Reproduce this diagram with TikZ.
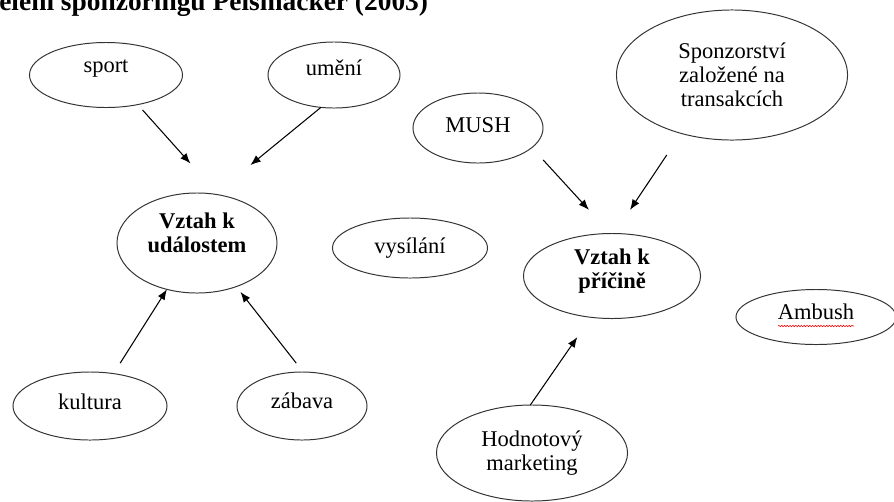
\documentclass[tikz,border=0pt]{standalone}
\usepackage{fontspec}
\setmainfont{Liberation Serif}
\usepackage{tikz}
\usetikzlibrary{arrows.meta, shapes.geometric, decorations.pathmorphing}

\tikzset{
  bubble/.style={draw=black!80, line width=0.7pt, ellipse, inner sep=0pt, outer sep=0pt},
  bold/.style={font=\fontsize{16}{17}\selectfont\bfseries},
  arr/.style={->, line width=0.75pt}
}

\begin{document}
\begin{tikzpicture}[x=0.025cm, y=-0.025cm, font=\fontsize{16}{17}\selectfont, >={Latex[length=2.6mm, width=2mm]}]

\clip (0,0) rectangle (894,501);

% heading, cut at the top edge
\node[font=\fontsize{19.5}{22}\selectfont\bfseries, anchor=base west, inner sep=0pt] (title) at (-1,10.5) {ělení sponzoringu Pelsmacker (2003)};

% left group: relation to events
\node[bubble, minimum width=4cm, minimum height=2.5cm, label={[align=center, bold, yshift=0.25cm]center:Vztah k\\událostem}] (udal) at (197,243) {};
\node[bubble, minimum width=3.825cm, minimum height=1.625cm, label={[yshift=0.15cm]center:sport}] (sport) at (106,75) {};
\node[bubble, minimum width=3.3cm, minimum height=1.65cm, label={[yshift=0.18cm]center:umění}] (umeni) at (334,75) {};
\node[bubble, minimum width=3.85cm, minimum height=1.7cm, label={[yshift=0.1cm]center:kultura}] (kultura) at (90,406) {};
\node[bubble, minimum width=3.25cm, minimum height=1.7cm, label={[yshift=0.13cm]center:zábava}] (zabava) at (302,406) {};

% alone in the middle
\node[bubble, minimum width=3.875cm, minimum height=1.5cm, label={center:vysílání}] (vysilani) at (410,248) {};

% right group: relation to a cause
\node[bubble, minimum width=4.425cm, minimum height=2.125cm, label={[align=center, bold, yshift=0.12cm]center:Vztah k\\příčině}] (pricina) at (612,276) {};
\node[bubble, minimum width=3.25cm, minimum height=1.75cm, label={[yshift=0.08cm]center:MUSH}] (mush) at (478,128) {};
\node[bubble, minimum width=5.775cm, minimum height=3.25cm, label={[align=center]center:Sponzorství\\založené na\\transakcích}] (transakce) at (732,75) {};
\node[bubble, minimum width=4.775cm, minimum height=2.4cm, label={[align=center]center:Hodnotový\\marketing}] (hodnot) at (532,453) {};
\node[bubble, minimum width=4cm, minimum height=1.375cm, label={[yshift=0.12cm]center:Ambush}] (ambush) at (816,317) {};

% spell-check line under Ambush
\draw[red, line width=0.4pt, decorate, decoration={snake, amplitude=0.5pt, segment length=2pt}] ([shift={(-38,9)}]ambush.center) -- ([shift={(38,9)}]ambush.center);

% arrows into the two centres
\draw[arr, shorten <=0.18cm, shorten >=1.05cm] (sport.-43) -- (udal.66);
\draw[arr, shorten >=1.15cm] (umeni.-112) -- (udal.70);
\draw[arr, shorten <=0.31cm] (kultura.54) -- (udal.-123);
\draw[arr, shorten <=0.28cm, shorten >=0.17cm] (zabava.88) -- (udal.-48);
\draw[arr, shorten <=0.42cm, shorten >=0.8cm] (mush.-20) -- (pricina.92);
\draw[arr, shorten <=0.65cm, shorten >=0.71cm] (transakce.-131) -- (pricina.87);
\draw[arr, shorten >=0.6cm] (hodnot.92) -- (pricina.-117);

\end{tikzpicture}
\end{document}
